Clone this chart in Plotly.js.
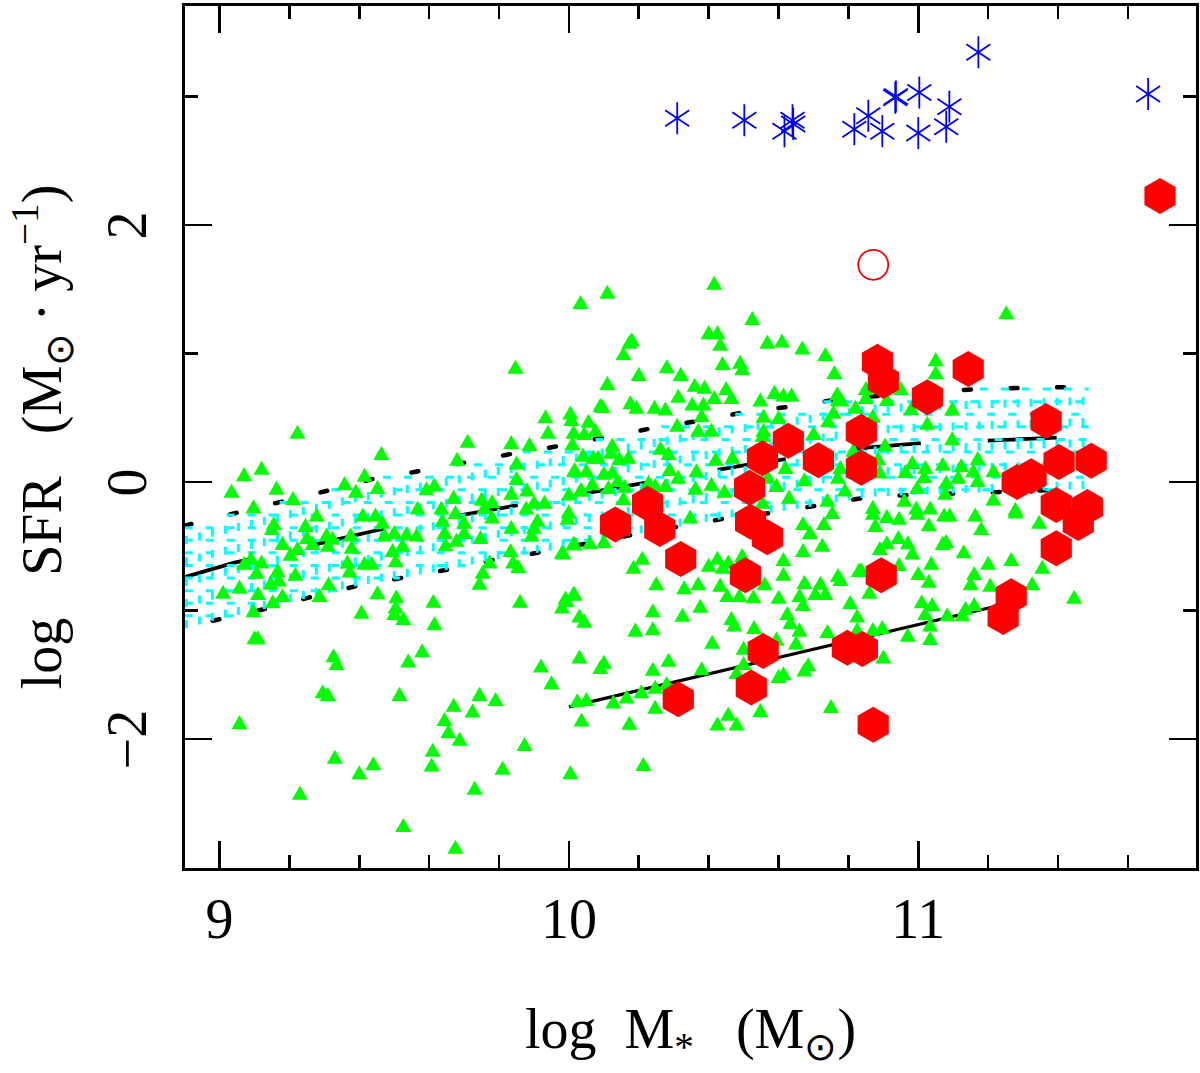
<!DOCTYPE html>
<html><head><meta charset="utf-8">
<script src="https://cdn.plot.ly/plotly-3.0.1.min.js"></script>
<style>html,body{margin:0;padding:0;background:#fff}#g{width:1200px;height:1073px}</style>
</head><body><div id="g"></div>
<script>
// [log M*, log SFR]
const triangles = [
[9.10,-1.21],[9.11,-1.21],[9.326,-1.35],[9.335,-1.41],[9.54,-1.39],[9.58,-1.31],[9.92,-1.43],[10.03,-1.36],[10.09,-1.44],[10.10,-1.40],
[10.19,-1.15],[10.24,-1.14],[10.285,-1.385],[10.24,-1.455],[9.95,-1.56],[9.295,-1.63],[9.31,-1.65],[9.515,-1.65],[9.057,-1.87],[9.744,-1.65],
[9.79,-1.69],[9.67,-1.735],[9.724,-1.78],[9.644,-1.845],[9.655,-1.94],[9.687,-2.0],[9.61,-2.085],[9.607,-2.20],[9.873,-2.04],[9.33,-2.14],
[9.44,-2.19],[9.40,-2.26],[9.81,-2.225],[10.004,-2.26],[9.73,-2.38],[9.23,-2.42],[9.526,-2.67],[9.675,-2.84],[10.213,-2.195],[10.173,-1.875],
[10.036,-1.85],[10.024,-1.70],[10.05,-1.69],[10.127,-1.71],[10.165,-1.67],[10.207,-1.63],[10.247,-1.595],[10.28,-1.565],[10.247,-1.75],
[9.984,-0.55],[10.016,-.48],[10.06,-.47],[10.10,-.46],[10.21,-.59],[10.185,-.66],[10.25,-.79],[10.33,-.82],[10.37,-.79],[10.40,-.645],
[10.425,-.59],[10.456,-.62],[10.44,-.66],[10.496,-.57],[10.614,-.60],[10.614,-.715],[10.67,-.53],[10.725,-.49],[10.67,-.32],[10.73,-.32],
[10.69,-.39],[10.433,-.80],[10.453,-.88],[10.488,-.88],[10.528,-.89],[10.56,-.79],[10.60,-.895],[10.674,-.78],[10.66,-.88],[10.67,-.95],
[10.72,-.785],[10.705,-.865],[10.734,-.865],[10.77,-.725],[10.777,-.755],[10.805,-.935],[10.83,-.685],[10.825,-1.04],[9.99,-.90],[10.016,-.87],
[9.98,-.97],[10.03,-1.04],[10.044,-1.08],[10.24,-1.00],[10.325,-1.035],[10.376,-.965],[10.465,-1.06],[10.473,-1.11],[10.53,-1.13],[10.625,-1.02],
[10.634,-1.09],[10.66,-1.15],[10.74,-1.16],[10.65,-1.25],[10.594,-1.22],[10.41,-1.245],[10.38,-1.45],[10.50,-1.29],[10.50,-1.41],[10.48,-1.48],
[10.685,-1.42],[10.674,-1.46],[10.614,-1.49],[10.60,-1.51],[10.548,-1.775],[10.75,-1.745],[10.456,-1.805],[10.425,-1.88],[10.48,-1.88],
[10.87,-.24],[10.91,-.265],[10.945,-.28],[10.877,-.335],[10.997,-.24],[11.03,-.33],[11.074,-.255],[11.09,-.255],[11.163,-.255],[11.18,-.36],
[11.278,-.23],[11.346,-.31],[10.89,-.515],[10.91,-.47],[10.943,-.43],[10.97,-.47],[10.983,-.55],[11.07,-.475],[11.08,-.46],[11.13,-.54],
[10.945,-.64],[10.837,-.68],[11.037,-.63],[11.0,-.71],[11.03,-.77],[11.20,-.63],[11.266,-.60],[11.16,-.71],[11.15,-.79],[11.206,-.80],
[11.355,-.66],[11.326,-.79],[11.446,-.895],[10.86,-.855],[11.01,-.93],[11.04,-.95],[11.02,-1.02],[11.083,-1.03],[11.135,-.98],[11.126,-1.03],
[11.16,-.95],[10.825,-1.145],[10.87,-1.145],[10.897,-1.13],[11.034,-1.11],[10.97,-1.19],[11.034,-1.215],[10.90,-1.36],
[9.223,.39],[9.07,.06],[9.12,.11],[9.034,-.07],[9.163,-.045],[9.097,-.19],[9.21,-.125],[9.71,.32],[9.463,.225],[9.68,.18],
[9.835,.31],[9.887,.295],[9.933,.51],[10.004,.54],[9.94,.39],[10.013,.39],[10.01,.30],[9.85,.15],[9.85,.03],[9.835,-.085],
[9.88,-.06],[10.016,.09],[10.0,-.09],[10.036,-.06],[9.358,-.01],[9.415,.055],[9.39,-.07],[9.452,-.04],[9.592,-.05],[9.615,-.02],
[9.67,-.115],[9.75,-.13],[9.78,-.15],[9.278,-.255],[9.41,-.255],[9.446,-.255],[9.466,-.31],[9.567,-.20],[9.635,-.20],[9.675,-.235],
[9.758,-.195],[9.78,-.27],[9.90,-.155],[9.93,-.155],[9.878,-.20],[9.999,-.23],[9.996,-.28],[9.638,-.295],[9.70,-.31],[9.835,-.35],
[9.91,-.295],[9.90,-.35],[9.893,-.41],[9.155,-.32],[9.15,-.36],[9.246,-.335],[9.25,-.43],[9.266,-.475],[9.306,-.41],[9.323,-.435],
[9.31,-.49],[9.375,-.41],[9.378,-.505],[9.472,-.41],[9.50,-.39],[9.535,-.40],[9.564,-.41],[9.524,-.49],[9.495,-.53],[9.504,-.61],
[9.644,-.39],[9.70,-.39],[9.678,-.45],[9.647,-.485],[9.747,-.43],[9.18,-.475],[9.223,-.515],[9.203,-.56],[9.12,-.62],[9.09,-.59],
[9.07,-.63],[9.106,-.70],[9.166,-.685],[9.146,-.785],[9.17,-.76],[9.217,-.715],[9.01,-.855],[9.057,-.815],[9.11,-.865],[9.18,-.88],
[9.152,-.93],[9.097,-1.0],[9.312,-.79],[9.286,-.88],[9.366,-.62],[9.372,-.69],[9.415,-.63],[9.435,-.63],[9.452,-.86],[9.506,-.89],
[9.504,-.97],[9.50,-1.02],[9.526,-1.06],[9.406,-1.01],[9.612,-.925],[9.615,-1.10],[9.86,-.925],[9.833,-.53],[9.84,-.62],[9.855,-.655],
[9.773,-.62],[9.753,-.70],[9.744,-.785],[9.98,-.545],[10.013,-.475],[9.993,-.92],[10.013,-.865],[9.847,.895],
[10.033,1.40],[10.11,1.48],[10.416,1.55],[10.525,1.275],[10.40,1.165],[10.425,1.165],[10.433,1.075],[10.568,1.09],[10.61,1.10],[10.668,1.045],
[10.734,.995],[10.76,.855],[10.18,1.11],[10.173,1.09],[10.156,1.00],[10.44,.925],[10.49,.935],[10.496,.885],[10.28,.90],[10.20,.84],
[10.32,.84],[10.11,.77],[10.36,.755],[10.388,.74],[10.313,.67],[10.45,.73],[10.465,.66],[10.416,.66],[10.353,.61],[10.385,.61],
[10.548,.64],[10.588,.70],[10.614,.68],[10.637,.68],[10.768,.69],[10.77,.645],[10.82,.585],[10.757,.545],[10.742,.48],[10.176,.62],
[10.09,.60],[10.096,.59],[10.193,.585],[10.245,.585],[10.276,.57],[10.38,.52],[10.007,.49],[10.056,.475],[10.076,.405],[10.044,.38],
[10.31,.445],[10.37,.405],[10.408,.405],[10.557,.515],[10.60,.505],[10.557,.405],[10.554,.365],[10.70,.38],[10.124,.29],[10.04,.21],
[10.07,.195],[10.084,.195],[10.12,.235],[10.144,.185],[10.17,.195],[10.262,.265],[10.285,.225],[10.288,.10],[10.42,.18],[10.468,.195],
[10.365,.09],[10.313,.04],[10.016,.10],[10.05,.09],[10.10,.07],[10.124,.08],[10.067,-.01],[10.14,.015],[10.16,-.03],[10.113,-.04],
[10.033,-.06],[10.156,-.125],[10.228,0],[10.247,-.025],[10.276,-.025],[10.362,-.045],[10.408,-.015],[10.445,-.07],[10.62,.115],[10.57,.04],
[10.594,-.025],[10.674,.02],[10.63,-.115],[10.77,.04],[10.777,.115],[10.79,-.06],[10.74,-.14],[10.754,-.235],[10.347,-.27],[10.554,-.155],
[11.252,1.32],[11.05,.955],[11.05,.855],[10.95,.73],[10.85,.73],[10.85,.66],[10.91,.645],[10.78,.64],[10.87,.515],[10.98,.575],
[11.097,.57],[11.026,.46],[11.097,.34],[10.905,.29],[10.814,.25],[10.885,.185],[10.983,.155],[10.963,.085],[11.02,.115],[11.017,.045],
[11.07,.14],[11.123,.13],[11.114,.04],[11.08,0],[11.077,-.085],[11.157,.09],[11.17,.185],[11.17,.015],[11.215,.09],[10.997,-.04],
[10.89,.08],[10.96,-.14],[10.994,-.20],[11.034,-.20],[11.215,-.13],[11.278,-.21],[10.87,-.195]
];
const hexagons = [
[10.133,-.33],[10.225,-.17],[10.26,-.365],[10.32,-.60],[10.313,-1.69],[10.505,-.725],[10.517,-.045],[10.52,-.31],[10.568,-.43],[10.554,.185],
[10.628,.32],[10.714,.17],[10.556,-1.315],[10.522,-1.60],[10.797,-1.29],[10.84,-1.30],[10.871,-1.89],[10.894,-.725],[10.837,.39],[10.837,.11],
[10.883,.935],[10.90,.785],[11.026,.66],[11.143,.88],[11.366,.475],[11.283,0],[11.323,.045],[11.403,.155],[11.495,.165],[11.395,-.18],
[11.484,-.195],[11.458,-.32],[11.395,-.515],[11.266,-.89],[11.243,-1.05],[11.692,2.225]
];
const asterisks = [
[10.31,2.83],[10.502,2.815],[10.617,2.73],[10.64,2.815],[10.642,2.785],[10.817,2.745],[10.857,2.85],[10.897,2.73],[10.934,2.99],[10.936,3.0],
[11.003,3.03],[11.0,2.715],[11.089,2.92],[11.08,2.765],[11.172,3.345],[11.658,3.02]
];
const openCircle = [[10.871,1.69]];
const meanLine = [[8.9,-.74],[9.04,-.63],[9.46,-.37],[9.85,-.18],[10.5,.13],[10.86,.27],[11.0,.30],[11.4,.345]];
const upperLine = [[8.9,-.34],[9.043,-.24],[9.175,-.155],[9.306,-.07],[9.438,.023],[9.572,.085],[9.707,.155],[9.838,.22],[9.973,.28],[10.11,.35],[10.242,.42],[10.37,.475],[10.508,.545],[10.645,.59],[10.785,.65],[11.183,.725],[11.318,.73],[11.455,.74]];
const lowerLine = [[8.98,-1.08],[9.126,-.99],[9.255,-.90],[9.392,-.81],[9.524,-.745],[9.658,-.68],[9.795,-.60],[9.924,-.545],[10.193,-.405],[10.333,-.34],[10.456,-.28],[10.594,-.235],[10.863,-.115],[10.997,-.10],[11.135,-.085],[11.412,-.06]];
const lowerEdgeStart = [8.9,-1.14];
const bandEndX = 11.49;
const secondLine = [[10.0,-1.75],[11.25,-.95]];
const xTicks = [9,10,11], yTicks = [-2,0,2];

const col = (a,i)=>a.map(p=>p[i]);
function interp(pts,x){
  if(x<=pts[0][0]) return pts[0][1];
  for(let i=1;i<pts.length;i++) if(x<=pts[i][0]){
    const t=(x-pts[i-1][0])/(pts[i][0]-pts[i-1][0]);
    return pts[i-1][1]+t*(pts[i][1]-pts[i-1][1]);
  }
  const n=pts.length-1;
  return pts[n][1]+(x-pts[n][0])*(pts[n][1]-pts[n-1][1])/(pts[n][0]-pts[n-1][0]);
}
// Dashed cross hatching that fills the band between the two dashed lines
const loEdge=[lowerEdgeStart].concat(lowerLine);
const hx=[],hy=[];
const xStep=13/349.5, yStep=12.6/128.5;
for(let x=8.905;x<=bandEndX;x+=xStep){hx.push(x,x,null);hy.push(interp(loEdge,x),interp(upperLine,x),null);}
for(let y=-1.14;y<=.75;y+=yStep){
  let a=null,b=null;
  for(let x=8.9;x<=bandEndX;x+=.004){
    if(y>=interp(loEdge,x)&&y<=interp(upperLine,x)){if(a===null)a=x;b=x;}
  }
  if(a!==null&&b>a){hx.push(a,b,null);hy.push(y,y,null);}
}
const lineTrace=(pts,w,dash)=>({x:col(pts,0),y:col(pts,1),mode:'lines',type:'scatter',hoverinfo:'skip',line:{color:'#000',width:w,dash:dash}});
const star=(sym)=>({x:col(asterisks,0),y:col(asterisks,1),mode:'markers',type:'scatter',marker:{symbol:sym,size:20,color:'#0000ff',line:{width:1.8,color:'#0000ff'}}});
const data=[
 lineTrace(meanLine,3.8,'69px,67px'),
 lineTrace(upperLine,4.5,'7px,39.6px'),
 lineTrace(lowerLine,4.5,'7px,39.6px'),
 lineTrace(secondLine,3.2,'solid'),
 {x:hx,y:hy,mode:'lines',type:'scatter',hoverinfo:'skip',line:{color:'#00ffff',width:3,dash:'8px,13px'}},
 {x:col(triangles,0),y:col(triangles,1),mode:'markers',type:'scatter',marker:{symbol:'triangle-up',size:16,color:'#00ff00',line:{width:0}}},
 {x:col(hexagons,0),y:col(hexagons,1),mode:'markers',type:'scatter',marker:{symbol:'hexagon',size:36,color:'#ff0000',line:{width:0}}},
 {x:col(openCircle,0),y:col(openCircle,1),mode:'markers',type:'scatter',marker:{symbol:'circle-open',size:30,color:'#ff0000',line:{width:1.8,color:'#ff0000'}}},
 star('y-up-open'),star('y-down-open')
];
const font={family:'"Liberation Serif",serif',size:56,color:'#000'};
const axis={showgrid:false,zeroline:false,showline:true,linecolor:'#000',linewidth:3,mirror:'ticks',ticks:'inside',ticklen:27,tickwidth:2.6,tickcolor:'#000',tickfont:font};
const layout={
 width:1200,height:1073,showlegend:false,paper_bgcolor:'#fff',plot_bgcolor:'#fff',
 margin:{l:184.5,r:4,t:6,b:205,pad:0},
 xaxis:Object.assign({},axis,{range:[8.901,11.795],tickmode:'array',tickvals:xTicks,ticktext:xTicks.map(String),
   minor:{dtick:.2,ticks:'inside',ticklen:13,tickwidth:2.6,tickcolor:'#000',showgrid:false},
   title:{text:'log\u00a0\u00a0M<sub>*</sub>\u00a0\u00a0\u00a0(M<sub>⊙</sub>)',font:font,standoff:60}}),
 yaxis:Object.assign({},axis,{range:[-3.004,3.704],tickmode:'array',tickvals:yTicks,ticktext:['−2','0','2'],tickangle:-90,
   ticklabelstandoff:14,ticklabelshift:9,
   minor:{dtick:1,ticks:'inside',ticklen:13,tickwidth:2.6,tickcolor:'#000',showgrid:false},
   title:{text:'\u00a0log\u00a0\u00a0\u00a0SFR\u00a0\u00a0\u00a0(M<sub>⊙</sub>\u2009·\u2009yr<sup>−1</sup>)',font:font,standoff:16}})
};
Plotly.newPlot('g',data,layout,{staticPlot:true,displayModeBar:false}).then(gd=>{
  // Round the dash ends, and give the triangles the reference's narrower, taller proportions
  const traces=gd.querySelectorAll('.scatterlayer .trace');
  [1,2].forEach(i=>traces[i].querySelectorAll('path.js-line').forEach(p=>{p.style.strokeLinecap='round';}));
  traces[5].querySelectorAll('path.point').forEach(p=>{
    p.setAttribute('transform',p.getAttribute('transform')+' translate(0,2.2) scale(.87,1.17)');
  });
});
</script></body></html>
